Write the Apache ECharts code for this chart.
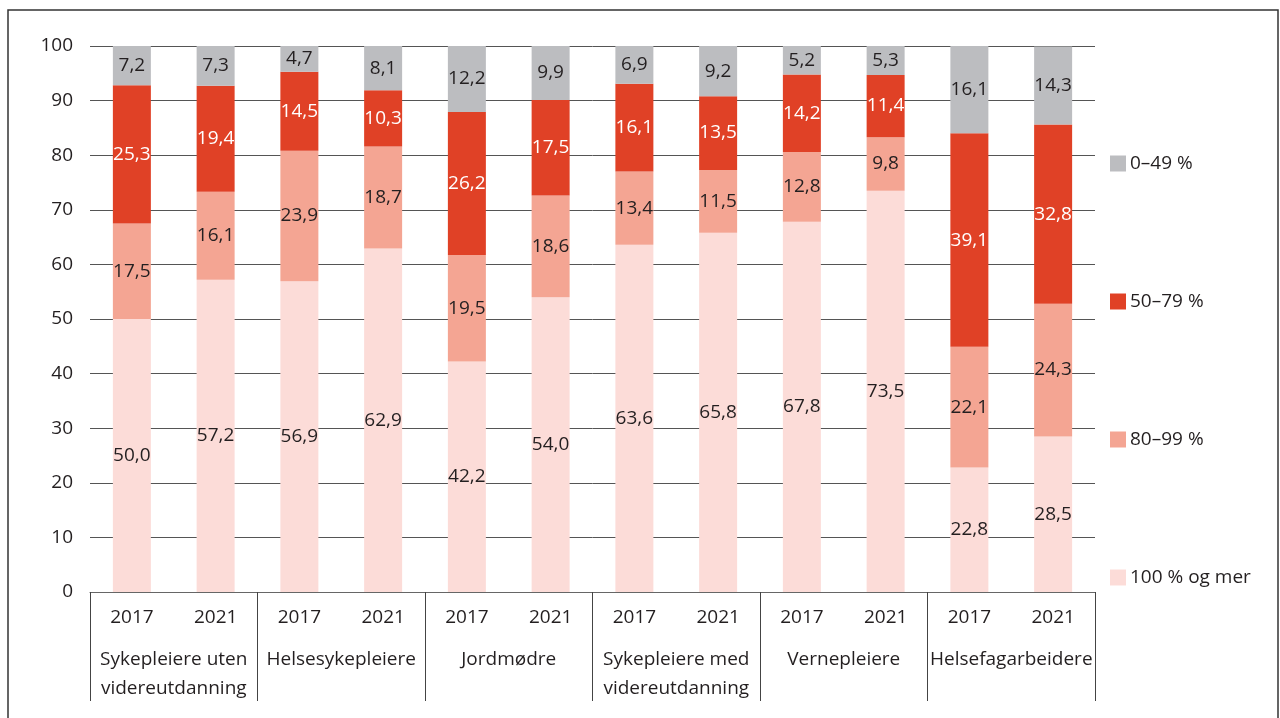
<!DOCTYPE html>
<html><head><meta charset="utf-8">
<script src="https://cdn.jsdelivr.net/npm/echarts@6/dist/echarts.min.js"></script>
<style>html,body{margin:0;padding:0;background:#fff}#c{width:1280px;height:718px}</style>
</head><body><div id="c"></div>
<script>
const years = ["2017","2021","2017","2021","2017","2021","2017","2021","2017","2021","2017","2021"];
const groups = ["Sykepleiere uten\nvidereutdanning","Helsesykepleiere","Jordmødre","Sykepleiere med\nvidereutdanning","Vernepleiere","Helsefagarbeidere"];
const seriesNames = ["100 % og mer","80–99 %","50–79 %","0–49 %"];
const s100 = [50.0,57.2,56.9,62.9,42.2,54.0,63.6,65.8,67.8,73.5,22.8,28.5];
const s80  = [17.5,16.1,23.9,18.7,19.5,18.6,13.4,11.5,12.8,9.8,22.1,24.3];
const s50  = [25.3,19.4,14.5,10.3,26.2,17.5,16.1,13.5,14.2,11.4,39.1,32.8];
const s0   = [7.2,7.3,4.7,8.1,12.2,9.9,6.9,9.2,5.2,5.3,16.1,14.3];
const yTicks = {min:0,max:100,interval:10};

const colors = ["#fcdcd8","#f4a593","#e04126","#bcbdc0"];
const labelColors = ["#231f20","#231f20","#ffffff","#231f20"];
const font = "'Open Sans', 'Noto Sans', sans-serif";
const datas = [s100,s80,s50,s0];

const chart = echarts.init(document.getElementById('c'));
chart.setOption({
  animation:false,
  textStyle:{fontFamily:font},
  graphic:[{type:'rect',shape:{x:8,y:10,width:1270,height:720},style:{fill:'none',stroke:'#333',lineWidth:1.5},z:100}],
  grid:{left:90,right:185,top:46,bottom:126},
  legend:{
    orient:'vertical',left:1110,top:154,padding:0,itemWidth:16,itemHeight:16,itemGap:119,
    data:["0–49 %","50–79 %","80–99 %","100 % og mer"],
    icon:'rect',
    textStyle:{fontSize:19,color:'#231f20',fontFamily:font,lineHeight:18,padding:[0,0,0,-1]},
    selectedMode:false
  },
  xAxis:[
    {type:'category',data:years,position:'bottom',
     axisLine:{show:true,lineStyle:{color:'#666',width:1}},
     axisTick:{show:false},
     axisLabel:{fontSize:19,color:'#231f20',margin:15,lineHeight:22,interval:0,fontFamily:font}},
    {type:'category',data:groups,position:'bottom',
     axisLine:{show:false},
     axisTick:{show:true,length:109,interval:0,lineStyle:{color:'#444',width:1}},
     axisLabel:{fontSize:19,color:'#231f20',margin:53,lineHeight:29,interval:0,fontFamily:font}}
  ],
  yAxis:{type:'value',min:yTicks.min,max:yTicks.max,interval:yTicks.interval,
    axisLine:{show:false},axisTick:{show:false},
    axisLabel:{fontSize:19,color:'#231f20',margin:17,fontFamily:font},
    splitLine:{show:true,lineStyle:{color:'#555',width:1}}},
  series: seriesNames.map((n,i)=>({
    name:n,type:'bar',stack:'a',barWidth:38,xAxisIndex:0,
    itemStyle:{color:colors[i]},
    data:datas[i],
    label:{show:true,position:'inside',color:labelColors[i],fontSize:19,fontFamily:font,
      formatter:p=>p.value.toFixed(1).replace('.',',')}
  }))
});
</script></body></html>
